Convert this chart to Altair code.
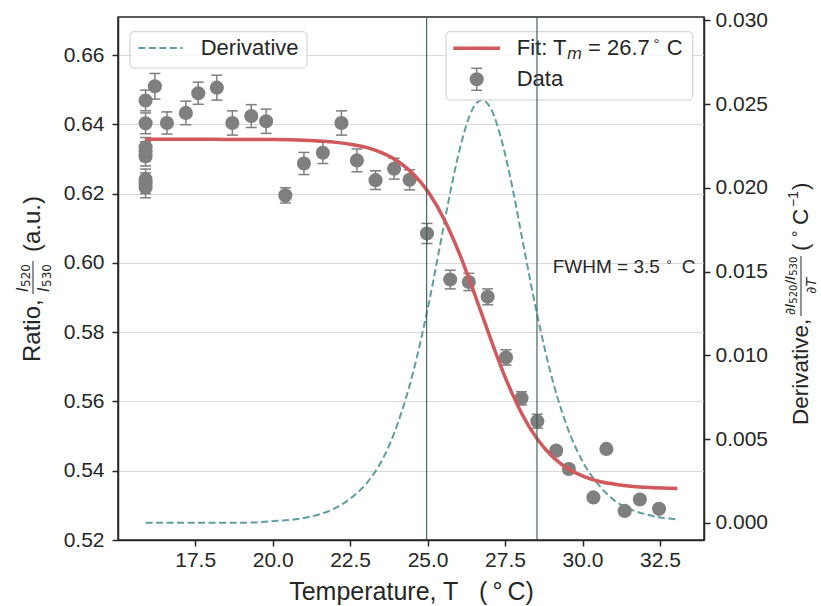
import altair as alt
import pandas as pd

FONT = "Liberation Sans"
MATH = "DejaVu Sans"
DARK = "#262626"
GRAY = "#7f7f7f"
RED = "#d1585b"
TEAL = "#5f9ea0"
VLINE = "#355a5a"

# ---------------- measured data ----------------
temp = [15.9, 15.9, 15.9, 15.9, 15.9, 15.9, 15.9, 15.9,
        16.20, 16.59, 17.20, 17.60, 18.20, 18.70, 19.31, 19.79, 20.41, 21.01,
        21.62, 22.22, 22.72, 23.32, 23.92, 24.42, 24.98, 25.73, 26.33, 26.94,
        27.53, 28.03, 28.54, 29.15, 29.56, 30.35, 30.77, 31.36, 31.85, 32.47]
ratio = [0.6469, 0.6403, 0.6334, 0.6322, 0.6308, 0.6241, 0.6230, 0.6218,
         0.6510, 0.6404, 0.6433, 0.6490, 0.6506, 0.6404, 0.6424, 0.6409, 0.6195, 0.6287,
         0.6318, 0.6404, 0.6296, 0.6239, 0.6272, 0.6240, 0.6085, 0.5952, 0.5945, 0.5902,
         0.5727, 0.5609, 0.5543, 0.5458, 0.5405, 0.5323, 0.5463, 0.5284, 0.5317, 0.5290]
err = [0.0030, 0.0030, 0.0028, 0.0028, 0.0028, 0.0030, 0.0030, 0.0030,
       0.0037, 0.0032, 0.0034, 0.0032, 0.0036, 0.0035, 0.0033, 0.0035, 0.0022, 0.0032,
       0.0031, 0.0035, 0.0033, 0.0027, 0.0030, 0.0029, 0.0029, 0.0027, 0.0025, 0.0023,
       0.0022, 0.0019, 0.0020, 0.0012, 0.0012, 0.0010, 0.0010, 0.0010, 0.0010, 0.0010]

fit_t = [15.9, 17.05, 18.05, 19.05, 20.05, 21.05, 22.05, 22.55, 23.05, 23.55, 24.05,
         24.55, 25.05, 25.55, 25.75, 26.05, 26.45, 26.75, 27.05, 27.45, 27.75, 28.05,
         28.55, 29.05, 29.55, 30.05, 30.55, 31.05, 31.55, 32.05, 32.55, 33.06]
fit_ratio = [0.6357, 0.6357, 0.6357, 0.6356, 0.6356, 0.6354, 0.6348, 0.6342, 0.6333, 0.6317, 0.6293,
             0.6256, 0.6201, 0.6123, 0.6085, 0.6022, 0.5927, 0.5852, 0.5777, 0.5682, 0.5619, 0.5563,
             0.5490, 0.5439, 0.5405, 0.5383, 0.5369, 0.5361, 0.5355, 0.5352, 0.5350, 0.5349]
fit_deriv = [0.0000, 0.0000, 0.0000, 0.0000, 0.0001, 0.0003, 0.0009, 0.0015, 0.0024, 0.0038, 0.0060,
             0.0091, 0.0132, 0.0180, 0.0199, 0.0224, 0.0247, 0.02525, 0.0247, 0.0224, 0.0199, 0.0170,
             0.0123, 0.0084, 0.0055, 0.0035, 0.0022, 0.0013, 0.0008, 0.0005, 0.0003, 0.0002]

fwhm_bounds = [24.97, 28.53]

x_ticks = [17.5, 20.0, 22.5, 25.0, 27.5, 30.0, 32.5]
ratio_ticks = [0.52, 0.54, 0.56, 0.58, 0.60, 0.62, 0.64, 0.66]
deriv_ticks = [0.0, 0.005, 0.010, 0.015, 0.020, 0.025, 0.030]

# ---------------- layout ----------------
W, H = 586, 523

pts = pd.DataFrame({"T": temp, "R": ratio, "err": err})
pts["lo"] = pts["R"] - pts["err"]
pts["hi"] = pts["R"] + pts["err"]
fitdf = pd.DataFrame({"T": fit_t, "R": fit_ratio, "D": fit_deriv})
ONE = pd.DataFrame({"k": [0]})

xs = alt.Scale(domain=[15.01, 33.92], nice=False, zero=False)
ysL = alt.Scale(domain=[0.52, 0.671], nice=False, zero=False)
ysR = alt.Scale(domain=[-0.00103, 0.0302], nice=False, zero=False)

xax = alt.Axis(values=x_ticks, format=".1f",
               title="Temperature, T\u00a0\u00a0\u00a0(\u2009\u00b0\u2009C)",
               grid=False, tickSize=6, labelPadding=3, titlePadding=9)
yL = alt.Axis(values=ratio_ticks, format=".2f", title=None, orient="left",
              grid=True, gridColor="#d9d9d9", gridWidth=1.2, tickSize=6, labelPadding=8)
yR = alt.Axis(values=deriv_ticks, format=".3f", title=None, orient="right",
              grid=False, tickSize=6, labelPadding=5)

err_rule = alt.Chart(pts).mark_rule(color=GRAY, strokeWidth=1.5).encode(
    x=alt.X("T:Q", scale=xs, axis=xax),
    y=alt.Y("lo:Q", scale=ysL, axis=yL, title=None),
    y2="hi:Q")
cap_lo = alt.Chart(pts).mark_tick(orient="horizontal", size=11, thickness=1.5, color=GRAY,
                                  opacity=1).encode(
    x="T:Q", y=alt.Y("lo:Q", title=None))
cap_hi = alt.Chart(pts).mark_tick(orient="horizontal", size=11, thickness=1.5, color=GRAY,
                                  opacity=1).encode(
    x="T:Q", y=alt.Y("hi:Q", title=None))
dots = alt.Chart(pts).mark_circle(size=200, color=GRAY, opacity=1).encode(
    x="T:Q", y=alt.Y("R:Q", title=None))
fit = alt.Chart(fitdf).mark_line(color=RED, strokeWidth=3.5, interpolate="monotone").encode(
    x="T:Q", y=alt.Y("R:Q", title=None))
left = alt.layer(err_rule, cap_lo, cap_hi, dots, fit)

deriv = alt.Chart(fitdf).mark_line(color=TEAL, strokeWidth=2, strokeDash=[7, 3.5],
                                   interpolate="monotone").encode(
    x=alt.X("T:Q", scale=xs),
    y=alt.Y("D:Q", scale=ysR, axis=yR, title=None))

vlines = alt.Chart(pd.DataFrame({"T": fwhm_bounds})).mark_rule(
    color=VLINE, strokeWidth=1.1).encode(
    x=alt.X("T:Q", scale=xs), y=alt.value(0), y2=alt.value(H))


def txt(s, x, y, size=22, angle=0, align="left", baseline="middle", font=FONT,
        style="normal", color=DARK):
    return alt.Chart(ONE).mark_text(text=s, align=align, baseline=baseline, angle=angle,
                                    font=font, fontSize=size, fontStyle=style,
                                    color=color).encode(x=alt.value(x), y=alt.value(y))


def box(x1, y1, x2, y2):
    return alt.Chart(ONE).mark_rect(fill="white", fillOpacity=0.8, stroke="#cccccc",
                                    strokeWidth=1, cornerRadius=4).encode(
        x=alt.value(x1), x2=alt.value(x2), y=alt.value(y1), y2=alt.value(y2))


def hline(x1, x2, y, color, width, dash=None):
    kw = dict(color=color, strokeWidth=width)
    if dash:
        kw["strokeDash"] = dash
    return alt.Chart(ONE).mark_rule(**kw).encode(x=alt.value(x1), x2=alt.value(x2), y=alt.value(y))


def vline(x, y1, y2, color, width):
    return alt.Chart(ONE).mark_rule(color=color, strokeWidth=width).encode(
        x=alt.value(x), y=alt.value(y1), y2=alt.value(y2))


legend = [
    box(12, 14.7, 189, 51),
    hline(20.3, 64.7, 31, TEAL, 2, [7, 3.5]),
    txt("Derivative", 82.7, 31),
    box(328, 14.7, 574.7, 83),
    hline(335.3, 382, 31.3, RED, 3.5),
    txt("Fit: T", 398.7, 31),
    txt("m", 449, 37, 15.4, font=MATH, style="italic"),
    txt("= 26.7", 470, 31),
    txt("\u00b0", 535.5, 27, 15),
    txt("C", 548.7, 31),
    vline(358.7, 51.3, 73.3, GRAY, 1.5),
    hline(353.2, 364.2, 51.3, GRAY, 1.5),
    hline(353.2, 364.2, 73.3, GRAY, 1.5),
    alt.Chart(ONE).mark_circle(size=200, color=GRAY, opacity=1).encode(
        x=alt.value(358.7), y=alt.value(62.3)),
    txt("Data", 398.7, 62.3),
]

texts = [
    txt("FWHM = 3.5", 434.7, 255.7, 19, baseline="alphabetic"),
    txt("\u00b0", 548.5, 252, 13, baseline="alphabetic"),
    txt("C", 563.7, 255.7, 19, baseline="alphabetic"),
    # left axis title
    txt("Ratio,", -85, 345, 24, angle=270),
    txt("I", -95, 275, 16, angle=270, font=MATH, style="italic"),
    txt("520", -92, 270, 12, angle=270, font=MATH),
    vline(-85, 244, 277, DARK, 1),
    txt("I", -74, 275, 16, angle=270, font=MATH, style="italic"),
    txt("530", -71, 270, 12, angle=270, font=MATH),
    txt("(a.u.)", -85, 235, 24, angle=270),
    # right axis title
    txt("Derivative,", 683, 408, 22.5, angle=270),
    txt("\u2202", 673, 298, 14, angle=270, font=MATH),
    txt("I", 673, 290.8, 14, angle=270, font=MATH, style="italic"),
    txt("520", 676, 286.7, 10, angle=270, font=MATH),
    txt("/", 673, 267.6, 14, angle=270, font=MATH),
    txt("I", 673, 262.9, 14, angle=270, font=MATH, style="italic"),
    txt("530", 676, 258.8, 10, angle=270, font=MATH),
    vline(683, 239, 299, DARK, 1),
    txt("\u2202", 694, 276.8, 14, angle=270, font=MATH),
    txt("T", 694, 269.6, 14, angle=270, font=MATH, style="italic"),
    txt("(", 683, 234, 22.5, angle=270),
    txt("\u00b0", 681, 220, 16, angle=270),
    txt("C", 683, 208, 22.5, angle=270),
    txt("\u22121", 676, 190, 14, angle=270),
    txt(")", 683, 173, 22.5, angle=270),
]

chart = alt.layer(deriv, left, *legend, vlines, *texts).resolve_scale(
    y="independent"
).properties(
    width=W, height=H,
    padding={"left": 118, "top": 17, "right": 117, "bottom": 66},
    autosize=alt.AutoSizeParams(type="none"),
).configure_view(
    stroke=DARK, strokeWidth=1.5
).configure_axis(
    labelFont=FONT, labelFontSize=21, labelColor=DARK,
    titleFont=FONT, titleFontSize=25, titleFontWeight="normal", titleColor=DARK,
    domainColor=DARK, domainWidth=1.5, tickColor=DARK, tickWidth=1.5,
)

chart.save("out.html", embed_options={"renderer": "svg", "actions": False})
